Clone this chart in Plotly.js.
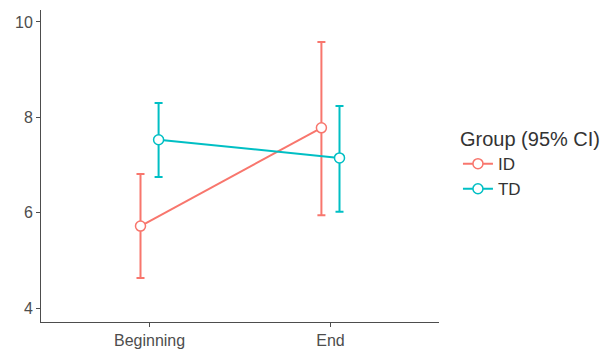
<!DOCTYPE html>
<html>
<head>
<meta charset="utf-8">
<script src="https://cdn.plot.ly/plotly-3.0.1.min.js"></script>
<style>html,body{margin:0;padding:0;background:#fff;}#chart{width:612px;height:350px;}</style>
</head>
<body>
<div id="chart"></div>
<script>
const categories = ["Beginning", "End"];
const groups = ["ID", "TD"];
const idMean = [5.72, 7.78];
const idLower = [4.63, 5.95];
const idUpper = [6.81, 9.58];
const tdMean = [7.53, 7.15];
const tdLower = [6.75, 6.02];
const tdUpper = [8.30, 8.24];
const colors = ["#F8766D", "#00BFC4"];
const dodge = [-0.05, 0.05];

function makeTrace(name, mean, lower, upper, color, off) {
  return {
    type: "scatter",
    mode: "lines+markers",
    name: name,
    x: categories.map((c, i) => i + off),
    y: mean,
    line: {color: color, width: 2},
    marker: {symbol: "circle", size: 10, color: "#ffffff", line: {color: color, width: 1.5}},
    error_y: {
      type: "data", symmetric: false,
      array: mean.map((m, i) => upper[i] - m),
      arrayminus: mean.map((m, i) => m - lower[i]),
      color: color, thickness: 2, width: 4
    },
    hoverinfo: "x+y"
  };
}

const data = [
  makeTrace(groups[0], idMean, idLower, idUpper, colors[0], dodge[0]),
  makeTrace(groups[1], tdMean, tdLower, tdUpper, colors[1], dodge[1])
];

const layout = {
  width: 612, height: 350,
  margin: {l: 41, r: 172, t: 10, b: 28},
  paper_bgcolor: "#ffffff", plot_bgcolor: "#ffffff",
  font: {family: "Liberation Sans, Arial, sans-serif", color: "#4D4D4D", size: 13},
  xaxis: {
    range: [-0.6, 1.6],
    tickvals: [0, 1], ticktext: categories,
    showgrid: false, zeroline: false,
    showline: true, linecolor: "#4D4D4D", linewidth: 1,
    ticks: "outside", ticklen: 4, tickcolor: "#4D4D4D",
    tickfont: {size: 16, color: "#4D4D4D"}
  },
  yaxis: {
    range: [3.71, 10.25],
    tickvals: [4, 6, 8, 10],
    showgrid: false, zeroline: false,
    showline: true, linecolor: "#4D4D4D", linewidth: 1,
    ticks: "outside", ticklen: 4, tickcolor: "#4D4D4D",
    tickfont: {size: 16, color: "#4D4D4D"}
  },
  legend: {
    x: 1.045, y: 0.647, xanchor: "left", yanchor: "top",
    title: {text: "Group (95% CI)", font: {size: 20, color: "#333333"}},
    font: {size: 17, color: "#333333"},
    tracegroupgap: 0, itemwidth: 30
  },
  showlegend: true
};

Plotly.newPlot("chart", data, layout, {displayModeBar: false, staticPlot: true});
</script>
</body>
</html>
